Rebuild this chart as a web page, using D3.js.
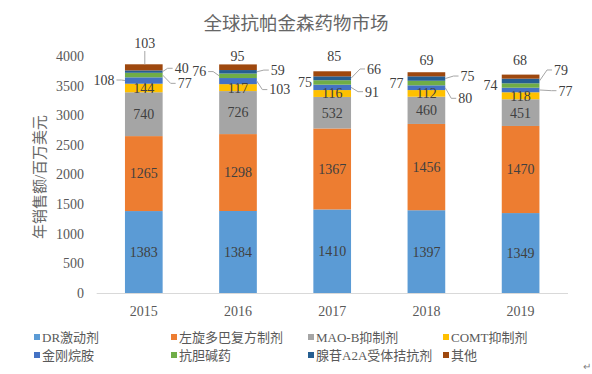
<!DOCTYPE html>
<html>
<head>
<meta charset="utf-8">
<script src="https://cdn.jsdelivr.net/npm/d3@7"></script>
<style>
    body { margin: 0; background: #fff; }
    text { font-family: "Liberation Serif", "Noto Sans CJK SC", serif; }
</style>
</head>
<body>
<div id="chart"></div>
<script>
const years = ["2015", "2016", "2017", "2018", "2019"]
const seriesNames = ["DR激动剂", "左旋多巴复方制剂", "MAO-B抑制剂", "COMT抑制剂", "金刚烷胺", "抗胆碱药", "腺苷A2A受体拮抗剂", "其他"]
const drAgonist = [1383, 1384, 1410, 1397, 1349]
const levodopa = [1265, 1298, 1367, 1456, 1470]
const maoB = [740, 726, 532, 460, 451]
const comt = [144, 117, 116, 112, 118]
const amantadine = [108, 103, 91, 80, 77]
const anticholinergic = [77, 76, 75, 77, 74]
const a2a = [40, 59, 66, 75, 79]
const others = [103, 95, 85, 69, 68]
const yTickValues = [0, 500, 1000, 1500, 2000, 2500, 3000, 3500, 4000]

const colors = ["#5B9BD5", "#ED7D31", "#A5A5A5", "#FFC000", "#4472C4", "#70AD47", "#255E91", "#9E480E"]

// where the small segment labels sit (side, dx from bar edge, dy from segment middle)
const smallLabelPos = {
    4: [["L", -21, -0.5], ["R", 23, 8.5], ["R", 21, 4.3], ["R", 20, 10.6], ["R", 26, 0.7]],
    5: [["R", 22, 8.3], ["L", -20, -4.2], ["L", -8.3, -0.8], ["L", -11, -0.3], ["L", -11.3, -0.5]],
    6: [["R", 19, -3.3], ["R", 21, -1.7], ["R", 23, -9.3], ["R", 22.3, -2.5], ["R", 21.6, -11]],
    7: [["T", 1, -21.3], ["T", -0.5, -8.7], ["T", 2, -15.3], ["T", 0, -12.2], ["T", -0.5, -14.6]]
}

const allSeries = [drAgonist, levodopa, maoB, comt, amantadine, anticholinergic, a2a, others]

const W = 592, H = 374

const svg = d3.select("#chart")
    .append("svg")
    .attr("width", W)
    .attr("height", H)

let x = d3.scaleBand()
    .domain(years)
    .range([96.7, 567.7])
    .paddingInner(0.6)
    .paddingOuter(0.3)

let y = d3.scaleLinear()
    .domain([0, 4000])
    .range([293, 56])

// title
svg.append("text")
    .attr("x", 296)
    .attr("y", 30)
    .attr("text-anchor", "middle")
    .attr("font-size", "18.5px")
    .attr("fill", "#666666")
    .attr("font-family", "Noto Sans CJK SC")
    .text("全球抗帕金森药物市场")

// y axis title
svg.append("text")
    .attr("transform", "translate(45,177) rotate(-90)")
    .attr("text-anchor", "middle")
    .attr("font-size", "15px")
    .attr("fill", "#666666")
    .attr("font-family", "Noto Sans CJK SC")
    .text("年销售额/百万美元")

// y ticks
let yAxis = svg.append("g")
    .attr("transform", "translate(84,0)")
    .call(d3.axisLeft(y).tickValues(yTickValues).tickFormat(d3.format("d")).tickSize(0).tickPadding(0))
yAxis.select(".domain").remove()
yAxis.selectAll("text")
    .attr("font-size", "14px")
    .attr("font-family", "Liberation Serif")
    .attr("fill", "#595959")

// x axis
let xAxis = svg.append("g")
    .attr("transform", "translate(0,293)")
    .call(d3.axisBottom(x).tickSize(0).tickPadding(13))
xAxis.select(".domain")
    .attr("stroke", "#D9D9D9")
    .attr("d", "M96.7,0.5H568")
xAxis.selectAll("text")
    .attr("font-size", "14px")
    .attr("font-family", "Liberation Serif")
    .attr("fill", "#595959")

// stack
let rows = years.map(function (yr, i) {
    let row = { year: yr }
    allSeries.forEach(function (s, k) { row["s" + k] = s[i] })
    return row
})
let stack = d3.stack().keys(allSeries.map(function (s, k) { return "s" + k }))(rows)

stack.forEach(function (layer, k) {
    svg.append("g")
        .selectAll("rect")
        .data(layer)
        .enter().append("rect")
        .attr("x", function (d) { return x(d.data.year) })
        .attr("width", x.bandwidth())
        .attr("y", function (d) { return y(d[1]) })
        .attr("height", function (d) { return y(d[0]) - y(d[1]) })
        .attr("fill", colors[k])
})

// labels inside the big segments
stack.slice(0, 4).forEach(function (layer, k) {
    svg.append("g")
        .selectAll("text")
        .data(layer)
        .enter().append("text")
        .attr("x", function (d) { return x(d.data.year) + x.bandwidth() / 2 })
        .attr("y", function (d) { return (y(d[0]) + y(d[1])) / 2 })
        .attr("dy", "0.35em")
        .attr("text-anchor", "middle")
        .attr("font-size", "14px")
        .attr("fill", "#404040")
        .text(function (d, i) { return allSeries[k][i] })
})

// labels for the small segments, with leader lines
let leaders = svg.append("g")
let labels = svg.append("g")
for (let k = 4; k < 8; k++) {
    stack[k].forEach(function (d, i) {
        let pos = smallLabelPos[k][i]
        let left = x(d.data.year), right = left + x.bandwidth(), mid = (left + right) / 2
        let segMid = (y(d[0]) + y(d[1])) / 2
        let top = y(d[1])
        let lx, ly
        if (pos[0] === "L") { lx = left + pos[1]; ly = segMid + pos[2] }
        else if (pos[0] === "R") { lx = right + pos[1]; ly = segMid + pos[2] }
        else { lx = mid + pos[1]; ly = top + pos[2] }

        let t = labels.append("text")
            .attr("x", lx)
            .attr("y", ly)
            .attr("dy", "0.35em")
            .attr("text-anchor", "middle")
            .attr("font-size", "14px")
            .attr("fill", "#404040")
            .text(allSeries[k][i])
        let half = t.node().getComputedTextLength() / 2

        let pts = null
        if (pos[0] === "R" && lx - half - right > 6) {
            let e = lx - half - 2
            pts = [[right, segMid], [e - 5, ly], [e, ly]]
        } else if (pos[0] === "L" && left - (lx + half) > 6) {
            let e = lx + half + 2
            pts = [[left, segMid], [e + 5, ly], [e, ly]]
        } else if (pos[0] === "T" && top - (ly + 6) > 10) {
            pts = [[lx, ly + 8], [lx, top]]
        }
        if (pts) {
            leaders.append("path")
                .attr("d", d3.line()(pts))
                .attr("fill", "none")
                .attr("stroke", "#A6A6A6")
                .attr("stroke-width", 1)
        }
    })
}

// legend
const legendX = [34, 171, 308, 443]
const legendY = [337, 355]
let legend = svg.append("g")
seriesNames.forEach(function (name, k) {
    let lx = legendX[k % 4], ly = legendY[Math.floor(k / 4)]
    legend.append("rect")
        .attr("x", lx)
        .attr("y", ly - 3)
        .attr("width", 6)
        .attr("height", 6)
        .attr("fill", colors[k])
    legend.append("text")
        .attr("x", lx + 8)
        .attr("y", ly)
        .attr("dy", "0.35em")
        .attr("font-size", "13px")
        .attr("fill", "#595959")
        .text(name)
})

svg.append("text")
    .attr("x", 583)
    .attr("y", 370)
    .attr("font-size", "10px")
    .attr("fill", "#808080")
    .text("↵")
</script>
</body>
</html>
